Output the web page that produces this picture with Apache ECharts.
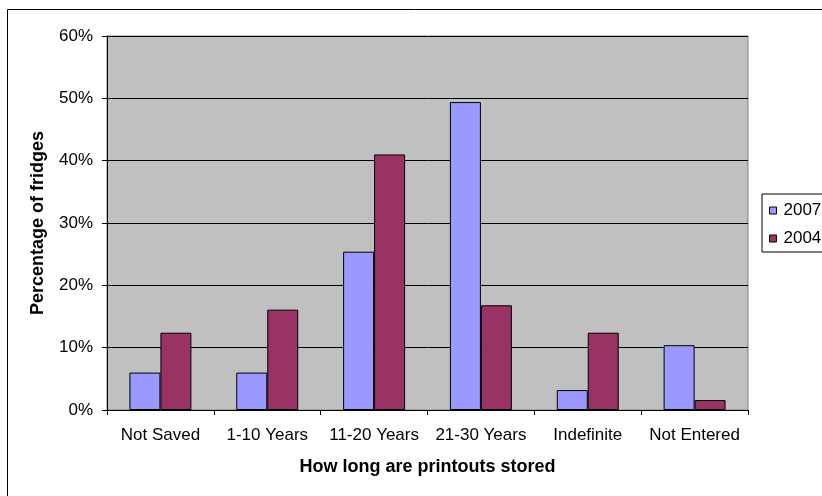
<!DOCTYPE html>
<html>
<head>
<meta charset="utf-8">
<script src="https://cdn.jsdelivr.net/npm/echarts@6/dist/echarts.min.js"></script>
<style>html,body{margin:0;padding:0;background:#fff}#c{width:822px;height:496px}</style>
</head>
<body>
<div id="c"></div>
<script>
const categories = ['Not Saved', '1-10 Years', '11-20 Years', '21-30 Years', 'Indefinite', 'Not Entered'];
const seriesNames = ['2007', '2004'];
const values2007 = [6.0, 6.0, 25.4, 49.4, 3.2, 10.4];
const values2004 = [12.4, 16.1, 41.0, 16.8, 12.4, 1.6];
const yTicks = [0, 10, 20, 30, 40, 50, 60];

const FONT = '"Liberation Sans", Arial, sans-serif';
const chart = echarts.init(document.getElementById('c'), null, {renderer: 'canvas'});
chart.setOption({
  animation: false,
  backgroundColor: '#fff',
  textStyle: {fontFamily: FONT, color: '#000'},
  graphic: [{
    type: 'rect', left: 5, top: 7, shape: {width: 900, height: 600},
    style: {fill: 'none', stroke: '#000', lineWidth: 1}, silent: true, z: -1
  }],
  grid: {
    left: 107, right: 74, top: 36, bottom: 86,
    show: true, backgroundColor: '#C0C0C0', borderColor: '#808080', borderWidth: 1
  },
  legend: {
    orient: 'vertical', left: 762, top: 194,
    data: seriesNames,
    backgroundColor: '#fff',
    borderColor: '#000', borderWidth: 1,
    padding: [8, 60, 5, 7],
    itemWidth: 7, itemHeight: 7, itemGap: 11,
    icon: 'rect',
    itemStyle: {borderColor: '#000', borderWidth: 1},
    textStyle: {fontFamily: FONT, fontSize: 17, color: '#000', padding: [0, 0, 0, 2]}
  },
  xAxis: {
    type: 'category', data: categories,
    name: 'How long are printouts stored', nameLocation: 'middle', nameGap: 48,
    nameTextStyle: {fontFamily: FONT, fontSize: 18, fontWeight: 'bold', color: '#000'},
    axisLine: {lineStyle: {color: '#000', width: 1}},
    axisTick: {show: true, length: 5, lineStyle: {color: '#000'}},
    axisLabel: {fontFamily: FONT, fontSize: 17, color: '#000', margin: 17, interval: 0}
  },
  yAxis: {
    type: 'value', min: yTicks[0], max: yTicks[yTicks.length - 1], interval: 10,
    name: 'Percentage of fridges', nameLocation: 'middle', nameGap: 60,
    nameTextStyle: {fontFamily: FONT, fontSize: 18, fontWeight: 'bold', color: '#000'},
    axisLine: {show: true, lineStyle: {color: '#000', width: 1}},
    axisTick: {show: true, length: 5, lineStyle: {color: '#000'}},
    axisLabel: {fontFamily: FONT, fontSize: 17, color: '#000', margin: 14, formatter: '{value}%'},
    splitLine: {show: true, lineStyle: {color: '#000', width: 1}}
  },
  series: [
    {name: seriesNames[0], type: 'bar', data: values2007, barGap: '0%', barCategoryGap: '42%',
     itemStyle: {color: '#9999FF', borderColor: '#000', borderWidth: 1}},
    {name: seriesNames[1], type: 'bar', data: values2004, barGap: '0%', barCategoryGap: '42%',
     itemStyle: {color: '#993366', borderColor: '#000', borderWidth: 1}}
  ]
});
</script>
</body>
</html>
